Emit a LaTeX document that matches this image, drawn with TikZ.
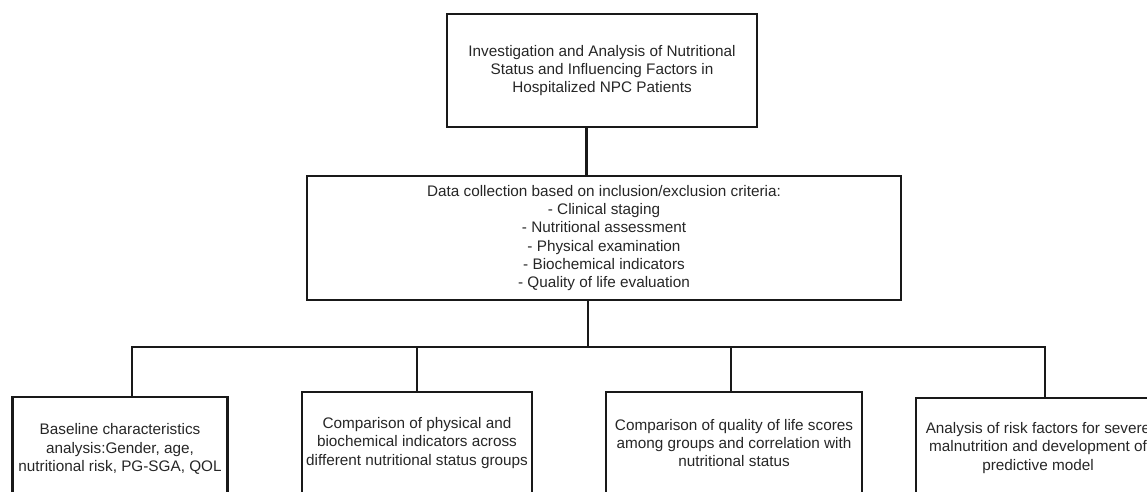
\documentclass[tikz,border=0pt]{standalone}
\usepackage{fontspec}
\setmainfont{Liberation Sans}
\begin{document}
\begin{tikzpicture}[x=1pt,y=-1pt,
  box/.style={draw=black!90, line width=2.2pt, rectangle, inner sep=0pt, align=center,
    font=\fontsize{15.3}{18.3}\selectfont, text=black!85},
  wire/.style={draw=black!90, line width=2.2pt}]
\useasboundingbox (0,0) rectangle (1147,491);
\clip (0,0) rectangle (1147,491);
\node[box, minimum width=310pt, minimum height=113pt] (top) at (602,70.5)
  {Investigation and Analysis of Nutritional\\Status and Influencing Factors in\\Hospitalized NPC Patients};
\node[box, minimum width=594pt, minimum height=124pt] (mid) at (604,238)
  {Data collection based on inclusion/exclusion criteria:\\- Clinical staging\\- Nutritional assessment\\- Physical examination\\- Biochemical indicators\\- Quality of life evaluation};
\node[box, minimum width=215pt, minimum height=104pt] (b1) at (120,449)
  {Baseline characteristics\\analysis:Gender, age,\\nutritional risk, PG-SGA, QOL};
\node[box, minimum width=230pt, minimum height=102pt] (b2) at (417,443)
  {Comparison of physical and\\biochemical indicators across\\different nutritional status groups};
\node[box, minimum width=256pt, minimum height=102pt] (b3) at (734,443)
  {Comparison of quality of life scores\\among groups and correlation with\\nutritional status};
\node[box, minimum width=244pt, minimum height=100pt] (b4) at (1038,448)
  {Analysis of risk factors for severe\\malnutrition and development of\\predictive model};
\coordinate (t1) at (586.5,0);
\coordinate (hub) at (588,347.3);
\coordinate (d1) at (131.7,347.3);
\coordinate (d2) at (417,347.3);
\coordinate (d3) at (731,347.3);
\coordinate (d4) at (1045.3,347.3);
\draw[wire] (t1 |- top.south) -- (t1 |- mid.north);
\draw[wire] (hub |- mid.south) -- (hub);
\draw[wire] (d1 |- b1.north) -- (d1) -- (d4) -- (d4 |- b4.north);
\draw[wire] (d2) -- (d2 |- b2.north);
\draw[wire] (d3) -- (d3 |- b3.north);
\end{tikzpicture}
\end{document}
